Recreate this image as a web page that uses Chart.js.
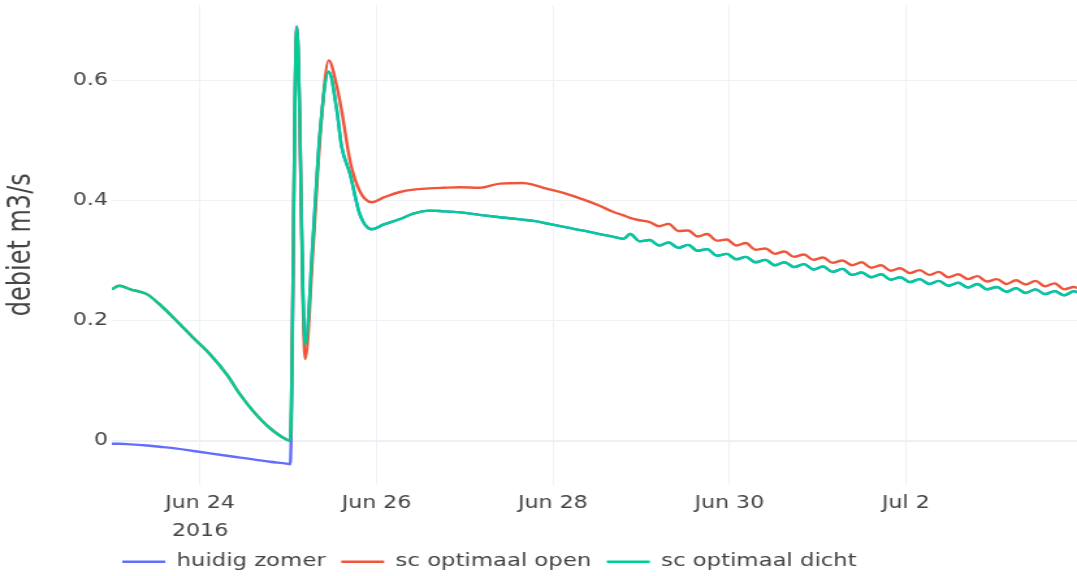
<!DOCTYPE html>
<html>
<head>
<meta charset="utf-8">
<title>debiet</title>
<script src="https://cdn.jsdelivr.net/npm/chart.js"></script>
<style>
    body { margin: 0; background: #fff; }
    /* the original picture is stretched sideways, so the canvas is too */
    #chart { display: block; width: 1077px !important; height: 576px !important; }
</style>
</head>
<body>
<canvas id="chart" width="828" height="576" style="width:1077px;height:576px"></canvas>
<script>
// hours since 23 jun 2016 00:00
const hours = [
    0, 2, 5, 9.5, 13, 17.7, 22.2, 26.7, 31.3, 34.9, 38.5, 43, 47.5, 48.5,
    50.3, 52.6, 54.8, 56.6, 59, 61.2, 62.5, 64.8, 67.4, 70.7, 74, 78.4, 82, 86.4, 90, 94.8,
    100, 105.6, 111.8, 114.7, 118, 123.7, 128, 132.7, 136, 139.2,
    141, 143.6, 146.3, 148.9, 151.5, 154.1, 156.8, 159.4, 162, 164.6, 167.3, 169.9,
    172.5, 175.1, 177.8, 180.4, 183, 185.6, 188.3, 190.9, 193.5, 196.1, 198.8, 201.4,
    204, 206.6, 209.3, 211.9, 214.5, 217.1, 219.8, 222.4, 225, 227.6, 230.3, 232.9,
    235.5, 238.1, 240.8, 243.4, 246, 248.6, 251.3, 253.9, 256.5, 259.1, 261.8, 262.6
];

const huidigZomer = [
    -0.005, -0.005, -0.006, -0.008, -0.010, -0.013, -0.017, -0.021, -0.025, -0.028, -0.031, -0.035, -0.038, -0.039,
    0.689, 0.160, 0.344, 0.512, 0.614, 0.550, 0.490, 0.444, 0.378, 0.352, 0.360, 0.369, 0.378, 0.383, 0.382, 0.380,
    0.376, 0.372, 0.368, 0.366, 0.362, 0.355, 0.350, 0.344, 0.340, 0.336,
    0.344, 0.332, 0.334, 0.325, 0.330, 0.321, 0.326, 0.316, 0.319, 0.308, 0.311, 0.302,
    0.306, 0.297, 0.301, 0.292, 0.297, 0.289, 0.294, 0.285, 0.290, 0.281, 0.286, 0.276,
    0.280, 0.272, 0.277, 0.268, 0.272, 0.264, 0.269, 0.261, 0.266, 0.258, 0.263, 0.255,
    0.261, 0.252, 0.256, 0.248, 0.254, 0.246, 0.252, 0.244, 0.249, 0.242, 0.249, 0.247
];

const scOptimaalOpen = [
    0.252, 0.258, 0.252, 0.244, 0.227, 0.199, 0.171, 0.144, 0.110, 0.077, 0.049, 0.021, 0.002, 0.000,
    0.689, 0.136, 0.325, 0.500, 0.633, 0.590, 0.550, 0.466, 0.416, 0.397, 0.405, 0.414, 0.418, 0.420, 0.421, 0.422,
    0.421, 0.428, 0.429, 0.426, 0.420, 0.411, 0.402, 0.391, 0.382, 0.375,
    0.371, 0.367, 0.364, 0.357, 0.361, 0.349, 0.350, 0.340, 0.344, 0.333, 0.335, 0.325,
    0.329, 0.318, 0.320, 0.311, 0.315, 0.306, 0.310, 0.301, 0.305, 0.296, 0.300, 0.292,
    0.297, 0.288, 0.292, 0.283, 0.287, 0.279, 0.284, 0.276, 0.281, 0.272, 0.277, 0.269,
    0.274, 0.265, 0.269, 0.261, 0.267, 0.260, 0.266, 0.257, 0.262, 0.252, 0.256, 0.254
];

const scOptimaalDicht = [
    0.252, 0.258, 0.252, 0.244, 0.227, 0.199, 0.171, 0.144, 0.110, 0.077, 0.049, 0.021, 0.002, 0.000,
    0.689, 0.160, 0.344, 0.512, 0.614, 0.550, 0.490, 0.444, 0.378, 0.352, 0.360, 0.369, 0.378, 0.383, 0.382, 0.380,
    0.376, 0.372, 0.368, 0.366, 0.362, 0.355, 0.350, 0.344, 0.340, 0.336,
    0.344, 0.332, 0.334, 0.325, 0.330, 0.321, 0.326, 0.316, 0.319, 0.308, 0.311, 0.302,
    0.306, 0.297, 0.301, 0.292, 0.297, 0.289, 0.294, 0.285, 0.290, 0.281, 0.286, 0.276,
    0.280, 0.272, 0.277, 0.268, 0.272, 0.264, 0.269, 0.261, 0.266, 0.258, 0.263, 0.255,
    0.261, 0.252, 0.256, 0.248, 0.254, 0.246, 0.252, 0.244, 0.249, 0.242, 0.249, 0.247
];

const tickHours = [24, 72, 120, 168, 216];
const tickDays = ['Jun 24', 'Jun 26', 'Jun 28', 'Jun 30', 'Jul 2'];
const tickYear = '2016';
const yTicks = [0, 0.2, 0.4, 0.6];
const yTickLabels = ['0', '0.2', '0.4', '0.6'];

const textColor = '#444';
const gridColor = '#edf0f5';
const font = 'DejaVu Sans';

// move the legend to where plotly had it
const legendPlace = {
    id: 'legendPlace',
    afterLayout(chart) {
        chart.legend.left = 82;
        chart.legend.top = 541;
    }
};

function lineSet(label, data, color, order) {
    return {
        label: label,
        data: data,
        borderColor: color,
        backgroundColor: color,
        borderWidth: 2.4,
        pointRadius: 0,
        cubicInterpolationMode: 'monotone',
        order: order
    };
}

new Chart(document.getElementById('chart'), {
    type: 'line',
    data: {
        labels: hours,
        datasets: [
            lineSet('huidig zomer', huidigZomer, '#636efa', 3),
            lineSet('sc optimaal open', scOptimaalOpen, '#ef553b', 2),
            lineSet('sc optimaal dicht', scOptimaalDicht, '#00cc96', 1)
        ]
    },
    options: {
        responsive: false,
        devicePixelRatio: 1,
        animation: false,
        layout: { padding: { top: 5, left: 0, right: 0, bottom: 0 } },
        scales: {
            x: {
                type: 'linear',
                min: 0,
                max: 262.6,
                border: { display: false },
                grid: { color: gridColor, drawTicks: false },
                afterBuildTicks: scale => {
                    scale.ticks = tickHours.map(v => ({ value: v }));
                },
                afterFit: scale => {
                    scale.height = 52;
                    scale.paddingLeft = 0;
                    scale.paddingRight = 0;
                },
                ticks: {
                    autoSkip: false,
                    maxRotation: 0,
                    padding: 5,
                    color: textColor,
                    font: { family: font, size: 17, lineHeight: 1.65 },
                    callback: function(value) {
                        var i = tickHours.indexOf(value);
                        return i === 0 ? [tickDays[i], tickYear] : tickDays[i];
                    }
                }
            },
            y: {
                min: -0.0728,
                max: 0.7252,
                border: { display: false },
                grid: {
                    color: gridColor,
                    drawTicks: false,
                    lineWidth: ctx => (ctx.tick && ctx.tick.value === 0 ? 2 : 1)
                },
                afterBuildTicks: scale => {
                    scale.ticks = yTicks.map(v => ({ value: v }));
                },
                afterFit: scale => {
                    scale.width = 86;
                    scale.paddingTop = 0;
                    scale.paddingBottom = 0;
                },
                ticks: {
                    padding: 3,
                    color: textColor,
                    font: { family: font, size: 17 },
                    callback: function(value) {
                        return yTickLabels[yTicks.indexOf(value)];
                    }
                },
                title: {
                    display: true,
                    text: 'debiet m3/s',
                    color: textColor,
                    font: { family: font, size: 24 },
                    padding: { top: 2, bottom: 0 }
                }
            }
        },
        plugins: {
            legend: {
                position: 'bottom',
                align: 'start',
                labels: {
                    usePointStyle: true,
                    pointStyle: 'line',
                    pointStyleWidth: 33,
                    padding: 12,
                    color: textColor,
                    font: { family: font, size: 17.5 },
                    // keep the dataset order, not the drawing order
                    sort: (a, b) => a.datasetIndex - b.datasetIndex
                }
            },
            tooltip: { enabled: false }
        }
    },
    plugins: [legendPlace]
});
</script>
</body>
</html>
